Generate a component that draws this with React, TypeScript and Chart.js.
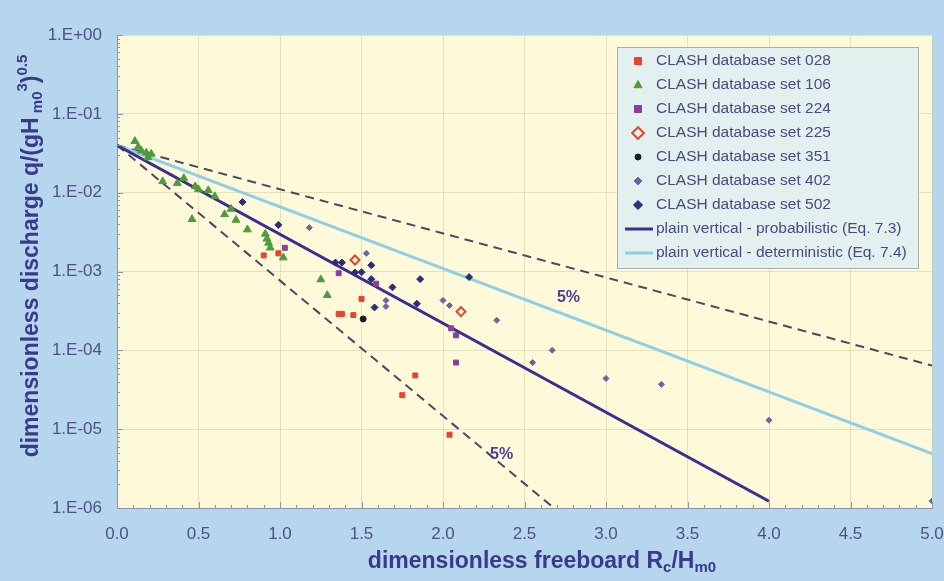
import React, { useEffect, useRef } from 'react';
import { Chart, registerables } from 'chart.js';
Chart.register(...registerables);

// ---------- data (x = Rc/Hm0, y = q/(gHm0^3)^0.5) ----------
const set028: number[][] = [[0.90, 1.6e-3], [0.99, 1.7e-3], [1.36, 2.9e-4], [1.38, 2.9e-4], [1.45, 2.8e-4], [1.50, 4.5e-4], [1.75, 2.7e-5], [1.83, 4.8e-5], [2.04, 8.5e-6]];
const set106: number[][] = [[0.11, 0.045], [0.13, 0.038], [0.15, 0.034], [0.18, 0.032], [0.21, 0.031], [0.19, 0.028], [0.28, 0.0139], [0.37, 0.0132], [0.41, 0.0152], [0.48, 0.012], [0.50, 0.011], [0.56, 0.0107], [0.60, 0.009], [0.46, 0.0046], [0.66, 0.0053], [0.70, 0.0062], [0.73, 0.0045], [0.80, 0.0034], [0.91, 0.0030], [0.92, 0.0026], [0.93, 0.0023], [0.94, 0.0020], [1.02, 0.0015], [1.25, 0.00079], [1.29, 0.0005]];
const set224: number[][] = [[1.03, 0.0020], [1.36, 0.00095], [1.59, 0.0007], [2.05, 1.9e-4], [2.08, 1.55e-4], [2.08, 7.0e-5]];
const set225: number[][] = [[1.46, 0.0014], [2.11, 3.1e-4]];
const set351: number[][] = [[1.51, 2.5e-4]];
const set402: number[][] = [[1.18, 0.0036], [1.53, 0.0017], [1.65, 4.3e-4], [1.65, 3.6e-4], [2.0, 4.3e-4], [2.04, 3.7e-4], [2.33, 2.4e-4], [2.55, 7.0e-5], [2.67, 1.0e-4], [3.0, 4.4e-5], [3.34, 3.7e-5], [4.0, 1.3e-5], [5.0, 1.23e-6]];
const set502: number[][] = [[0.77, 0.0076], [0.99, 0.0039], [1.34, 0.0013], [1.38, 0.0013], [1.46, 0.00097], [1.50, 0.00098], [1.56, 0.0012], [1.56, 0.0008], [1.69, 0.00063], [1.86, 0.0008], [1.84, 0.00039], [1.58, 0.00035], [2.16, 8.5e-4]];

// line end points
const probLine: number[][] = [[0, 0.04], [4.0, 1.22e-6]];
const detLine: number[][] = [[0, 0.04], [5.0, 4.9e-6]];
const upper5: number[][] = [[0, 0.04], [5.0, 6.4e-5]];
const lower5: number[][] = [[0, 0.04], [2.68, 1.0e-6]];

const pctLabels = ['5%', '5%'];
const pctPos: number[][] = [[2.77, 4.7e-4], [2.36, 4.8e-6]];

const xTicks = [0, 0.5, 1, 1.5, 2, 2.5, 3, 3.5, 4, 4.5, 5];
const yTickValues = [1e-6, 1e-5, 1e-4, 1e-3, 1e-2, 1e-1, 1];
const yTickLabels = ['1.E-06', '1.E-05', '1.E-04', '1.E-03', '1.E-02', '1.E-01', '1.E+00'];

const seriesLabels = [
  'CLASH database set 028',
  'CLASH database set 106',
  'CLASH database set 224',
  'CLASH database set 225',
  'CLASH database set 351',
  'CLASH database set 402',
  'CLASH database set 502',
  'plain vertical - probabilistic (Eq. 7.3)',
  'plain vertical - deterministic (Eq. 7.4)',
];

const FONT = '"Liberation Sans", Arial, sans-serif';
const FIG_BG = '#b6d6ee';
const PLOT_BG = '#fdf9d9';
const TITLE_COL = '#3a3a8c';
const TICK_COL = '#4f5185';

const pts = (a: number[][]) => a.map(([x, y]) => ({ x, y }));

type Seg = { t: string; k: 'n' | 'sub' | 'sup' };

function drawRich(ctx: CanvasRenderingContext2D, segs: Seg[], cx: number, cy: number, rot: boolean) {
  const big = `bold 23px ${FONT}`;
  const small = `bold 15px ${FONT}`;
  let w = 0;
  for (const s of segs) {
    ctx.font = s.k === 'n' ? big : small;
    w += ctx.measureText(s.t).width;
  }
  ctx.save();
  ctx.translate(cx, cy);
  if (rot) ctx.rotate(-Math.PI / 2);
  ctx.fillStyle = TITLE_COL;
  ctx.textBaseline = 'middle';
  ctx.textAlign = 'left';
  let x = -w / 2;
  for (const s of segs) {
    ctx.font = s.k === 'n' ? big : small;
    const dy = s.k === 'sub' ? 6 : s.k === 'sup' ? -9 : 0;
    ctx.fillText(s.t, x, dy);
    x += ctx.measureText(s.t).width;
  }
  ctx.restore();
}

const bgPlugin = {
  id: 'plotBg',
  beforeDraw(chart: any) {
    const { ctx, chartArea: a } = chart;
    ctx.save();
    ctx.fillStyle = PLOT_BG;
    ctx.fillRect(a.left, a.top, a.right - a.left, a.bottom - a.top);
    ctx.restore();
  },
};

const decorPlugin = {
  id: 'decor',
  afterDatasetsDraw(chart: any) {
    const { ctx } = chart;
    const xs = chart.scales.x;
    const ys = chart.scales.y;
    ctx.save();
    ctx.font = `bold 16px ${FONT}`;
    ctx.fillStyle = '#4a3f95';
    ctx.textAlign = 'center';
    ctx.textBaseline = 'middle';
    pctPos.forEach((p, i) => {
      ctx.fillText(pctLabels[i], xs.getPixelForValue(p[0]), ys.getPixelForValue(p[1]));
    });
    ctx.restore();
  },
  afterDraw(chart: any) {
    const { ctx, chartArea: a } = chart;
    const xs = chart.scales.x;
    const ys = chart.scales.y;
    ctx.save();
    ctx.strokeStyle = '#8e93ad';
    ctx.lineWidth = 1;
    ctx.beginPath();
    for (let i = 0; i <= 50; i++) {
      const px = Math.round(xs.getPixelForValue(i / 10)) + 0.5;
      const len = i % 5 === 0 ? 6 : 3;
      ctx.moveTo(px, a.bottom);
      ctx.lineTo(px, a.bottom - len);
    }
    for (let e = -6; e <= 0; e++) {
      for (let k = 1; k <= 9; k++) {
        const v = k * Math.pow(10, e);
        if (v > 1.0001) break;
        const py = Math.round(ys.getPixelForValue(v)) + 0.5;
        const len = k === 1 ? 6 : 3;
        ctx.moveTo(a.left, py);
        ctx.lineTo(a.left + len, py);
      }
    }
    ctx.stroke();
    ctx.restore();

    drawRich(ctx, [
      { t: 'dimensionless freeboard R', k: 'n' },
      { t: 'c', k: 'sub' },
      { t: '/H', k: 'n' },
      { t: 'm0', k: 'sub' },
    ], 542, 562, false);
    drawRich(ctx, [
      { t: 'dimensionless discharge q/(gH', k: 'n' },
      { t: ' m0', k: 'sub' },
      { t: '3', k: 'sup' },
      { t: ')', k: 'n' },
      { t: '0.5', k: 'sup' },
    ], 32, 256, true);

    // legend
    const bx = 617, by = 47, bw = 301, bh = 221;
    ctx.save();
    ctx.fillStyle = '#e2f1ef';
    ctx.fillRect(bx, by, bw, bh);
    ctx.strokeStyle = '#a7aeb0';
    ctx.lineWidth = 1;
    ctx.strokeRect(bx + 0.5, by + 0.5, bw, bh);
    ctx.font = `15.5px ${FONT}`;
    ctx.textBaseline = 'middle';
    ctx.textAlign = 'left';
    chart.data.datasets.forEach((ds: any, i: number) => {
      if (!ds.inLegend) return;
      const cy = by + 14 + i * 24;
      const mx = 638;
      if (ds.showLine) {
        ctx.strokeStyle = ds.borderColor;
        ctx.lineWidth = 3;
        ctx.beginPath();
        ctx.moveTo(625, cy);
        ctx.lineTo(653, cy);
        ctx.stroke();
      } else {
        const r = ds.pointRadius;
        ctx.fillStyle = ds.backgroundColor;
        ctx.strokeStyle = ds.borderColor;
        ctx.lineWidth = ds.borderWidth || 1;
        ctx.beginPath();
        if (ds.pointStyle === 'rect') {
          ctx.rect(mx - r, cy - r, 2 * r, 2 * r);
        } else if (ds.pointStyle === 'rectRot') {
          ctx.moveTo(mx, cy - r * 1.3);
          ctx.lineTo(mx + r * 1.3, cy);
          ctx.lineTo(mx, cy + r * 1.3);
          ctx.lineTo(mx - r * 1.3, cy);
          ctx.closePath();
        } else if (ds.pointStyle === 'triangle') {
          ctx.moveTo(mx, cy - r);
          ctx.lineTo(mx + r * 0.9, cy + r * 0.6);
          ctx.lineTo(mx - r * 0.9, cy + r * 0.6);
          ctx.closePath();
        } else {
          ctx.arc(mx, cy, r, 0, Math.PI * 2);
        }
        ctx.fill();
        ctx.stroke();
      }
      ctx.fillStyle = '#4a4a7e';
      ctx.fillText(ds.label, 656, cy);
    });
    ctx.restore();
  },
};

export default function App() {
  const ref = useRef<HTMLCanvasElement>(null);
  useEffect(() => {
    document.body.style.margin = '0';
    const canvas = ref.current!;
    const scatterDs = (label: string, data: number[][], style: string, r: number, bg: string, border: string, bw = 1) => ({
      type: 'scatter',
      label,
      data: pts(data),
      pointStyle: style,
      pointRadius: r,
      pointHoverRadius: r,
      backgroundColor: bg,
      borderColor: border,
      borderWidth: bw,
      showLine: false,
      inLegend: true,
    });
    const lineDs = (label: string, data: number[][], color: string, width: number, dash: number[], inLegend: boolean) => ({
      type: 'scatter',
      label,
      data: pts(data),
      showLine: true,
      borderColor: color,
      backgroundColor: color,
      borderWidth: width,
      borderDash: dash,
      pointRadius: 0,
      fill: false,
      inLegend,
    });
    const chart = new Chart(canvas, {
      type: 'scatter',
      data: {
        datasets: [
          scatterDs(seriesLabels[0], set028, 'rect', 3.5, '#e8432f', '#e8432f'),
          scatterDs(seriesLabels[1], set106, 'triangle', 4.5, '#4f9a3c', '#4f9a3c'),
          scatterDs(seriesLabels[2], set224, 'rect', 3.5, '#8b3f9b', '#8b3f9b'),
          scatterDs(seriesLabels[3], set225, 'rectRot', 4.5, 'rgba(0,0,0,0)', '#e0452b', 2),
          scatterDs(seriesLabels[4], set351, 'circle', 3, '#1c1c24', '#1c1c24'),
          scatterDs(seriesLabels[5], set402, 'rectRot', 3, '#6a64a2', '#6a64a2'),
          scatterDs(seriesLabels[6], set502, 'rectRot', 3.5, '#2d2d78', '#2d2d78'),
          lineDs(seriesLabels[7], probLine, '#3a2f90', 3, [], true),
          lineDs(seriesLabels[8], detLine, '#8fcfe6', 3, [], true),
          lineDs('upper 5%', upper5, '#4a4868', 2, [9, 6], false),
          lineDs('lower 5%', lower5, '#4a4868', 2, [9, 6], false),
        ] as any,
      },
      options: {
        animation: false,
        responsive: false,
        events: [],
        layout: { padding: { top: 35, right: 12, left: 0, bottom: 0 } },
        plugins: { legend: { display: false }, tooltip: { enabled: false } },
        scales: {
          x: {
            type: 'linear',
            min: 0,
            max: 5,
            afterBuildTicks: (s: any) => { s.ticks = xTicks.map((v) => ({ value: v })); },
            afterFit: (s: any) => { s.height = 73; s.paddingLeft = 0; s.paddingRight = 0; },
            ticks: {
              color: TICK_COL,
              font: { family: FONT, size: 17 },
              padding: 16,
              callback: (v: any) => Number(v).toFixed(1),
            },
            grid: { color: 'rgba(205,195,150,0.45)', drawTicks: false },
            border: { color: '#8e93ad', width: 1 },
          },
          y: {
            type: 'logarithmic',
            min: 1e-6,
            max: 1,
            afterBuildTicks: (s: any) => { s.ticks = yTickValues.map((v) => ({ value: v })); },
            afterFit: (s: any) => { s.width = 117; s.paddingTop = 0; s.paddingBottom = 0; },
            ticks: {
              color: TICK_COL,
              font: { family: FONT, size: 17 },
              padding: 15,
              callback: (_v: any, i: number) => yTickLabels[i],
            },
            grid: { color: 'rgba(205,195,150,0.45)', drawTicks: false },
            border: { color: '#8e93ad', width: 1 },
          },
        },
      } as any,
      plugins: [bgPlugin, decorPlugin],
    });
    return () => chart.destroy();
  }, []);
  return (
    <div style={{ position: 'fixed', left: 0, top: 0, width: 944, height: 581, background: FIG_BG }}>
      <canvas ref={ref} width={944} height={581} style={{ display: 'block', width: 944, height: 581 }} />
    </div>
  );
}
